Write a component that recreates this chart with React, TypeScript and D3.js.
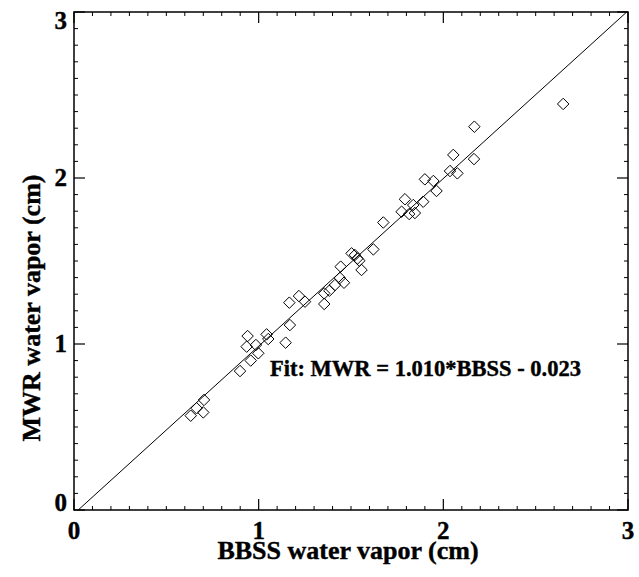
import React from "react";
import * as d3 from "d3";

const bbss = [0.632,0.664,0.704,0.700,0.899,0.940,0.935,0.957,0.985,0.998,1.043,1.052,1.146,1.169,1.166,1.218,1.251,1.355,1.355,1.383,1.413,1.440,1.462,1.444,1.503,1.521,1.535,1.557,1.545,1.621,1.675,1.774,1.815,1.846,1.792,1.837,1.891,1.900,1.946,1.963,2.036,2.076,2.054,2.166,2.168,2.649];
const mwr = [0.568,0.613,0.663,0.588,0.837,1.048,0.984,0.900,0.994,0.944,1.058,1.030,1.008,1.114,1.249,1.289,1.255,1.241,1.305,1.321,1.355,1.398,1.369,1.466,1.546,1.536,1.515,1.446,1.502,1.570,1.732,1.797,1.783,1.789,1.872,1.837,1.857,1.992,1.982,1.922,2.042,2.028,2.139,2.114,2.309,2.446];
const fitSlope = 1.010;
const fitIntercept = -0.023;
const majorTicks = [0, 1, 2, 3];
const xTitle = "BBSS water vapor (cm)";
const yTitle = "MWR water vapor (cm)";
const fitLabel = "Fit: MWR = 1.010*BBSS - 0.023";

const W = 639, H = 577;
const L = 74, R = 628, T = 12, B = 510;
const font = "'Liberation Serif', 'Times New Roman', serif";

export default function App() {
  const x = d3.scaleLinear().domain([0, 3]).range([L, R]);
  const y = d3.scaleLinear().domain([0, 3]).range([B, T]);
  const minor = d3.range(0, 3.0001, 0.1).map((v) => +v.toFixed(2)).filter((v) => !majorTicks.includes(v));
  const majLen = 11, minLen = 4;
  const diamond = d3.symbol().type(d3.symbolDiamond2).size(84)();
  const fitX0 = -fitIntercept / fitSlope;
  const fitX1 = Math.min(3, (3 - fitIntercept) / fitSlope);
  const line = d3.line<number>().x((v) => x(v)).y((v) => y(fitSlope * v + fitIntercept));
  return (
    <svg width={W} height={H} style={{ display: "block", position: "absolute", left: 0, top: 0 }}>
      <rect width={W} height={H} fill="#fff" />
      <defs>
        <clipPath id="pc"><rect x={L} y={T} width={R - L} height={B - T} /></clipPath>
      </defs>
      <path d={line([fitX0, fitX1]) || ""} stroke="#000" strokeWidth={1} fill="none" clipPath="url(#pc)" />
      {bbss.map((v, i) => (
        <path key={i} d={diamond || ""} transform={`translate(${x(v)},${y(mwr[i])})`} fill="none" stroke="#000" strokeWidth={1} />
      ))}
      <rect x={L} y={T} width={R - L} height={B - T} fill="none" stroke="#000" strokeWidth={1.5} />
      {majorTicks.map((t) => (
        <g key={"M" + t} stroke="#000" strokeWidth={1.2}>
          <line x1={x(t)} x2={x(t)} y1={B} y2={B - majLen} />
          <line x1={x(t)} x2={x(t)} y1={T} y2={T + majLen} />
          <line x1={L} x2={L + majLen} y1={y(t)} y2={y(t)} />
          <line x1={R} x2={R - majLen} y1={y(t)} y2={y(t)} />
        </g>
      ))}
      {minor.map((t) => (
        <g key={"m" + t} stroke="#000" strokeWidth={1}>
          <line x1={x(t)} x2={x(t)} y1={B} y2={B - minLen} />
          <line x1={x(t)} x2={x(t)} y1={T} y2={T + minLen} />
          <line x1={L} x2={L + minLen} y1={y(t)} y2={y(t)} />
          <line x1={R} x2={R - minLen} y1={y(t)} y2={y(t)} />
        </g>
      ))}
      <g fontFamily={font} fontWeight="bold" fill="#000" stroke="#000" strokeWidth={0.4}>
        {majorTicks.map((t) => (
          <text key={"xl" + t} x={x(t)} y={B + 29} fontSize={25} textAnchor="middle">{t}</text>
        ))}
        {majorTicks.map((t) => (
          <text key={"yl" + t} x={L - 7} fontSize={25} y={Math.min(B + 1, Math.max(T + 17, y(t) + 8))} textAnchor="end">{t}</text>
        ))}
        <text x={348} y={559} fontSize={26} textAnchor="middle">{xTitle}</text>
        <text transform={`translate(40,308) rotate(-90)`} fontSize={26} textAnchor="middle">{yTitle}</text>
        <text x={270} y={376} fontSize={22.5}>{fitLabel}</text>
      </g>
    </svg>
  );
}
